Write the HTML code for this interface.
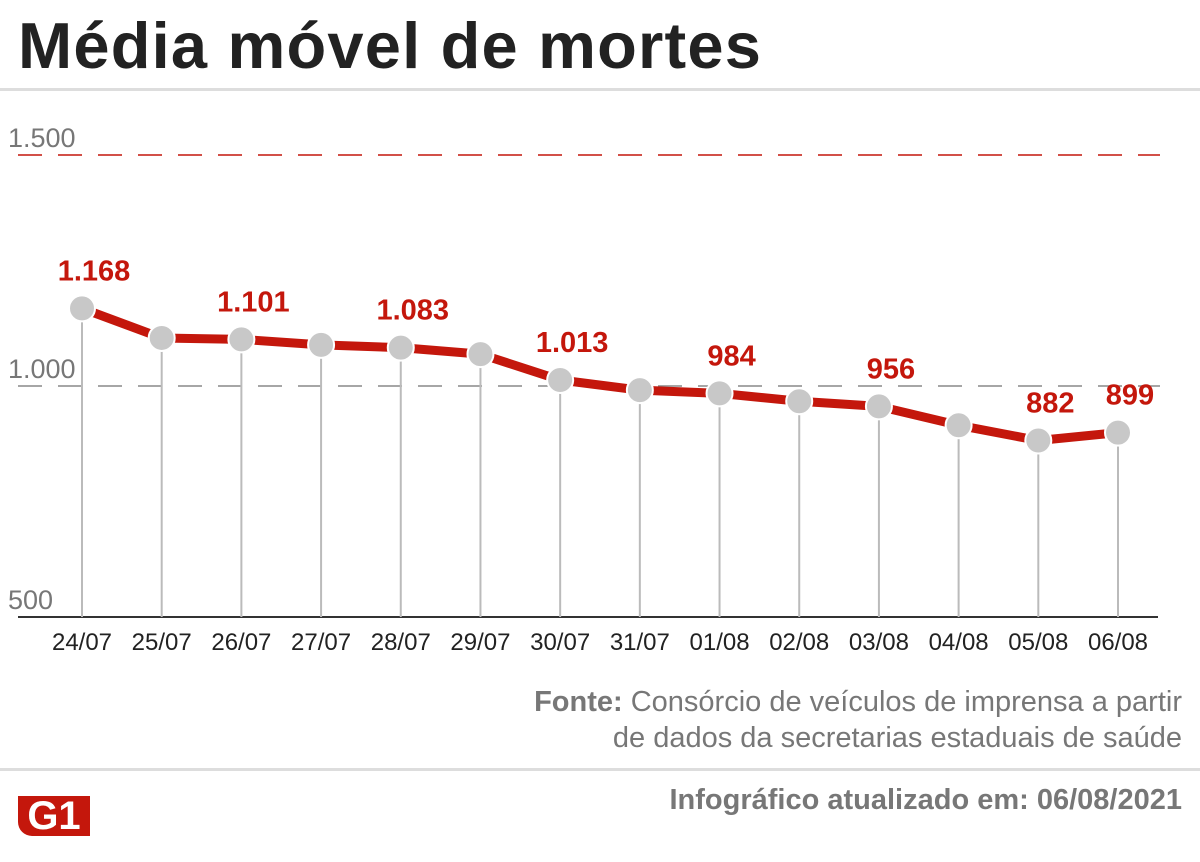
<!DOCTYPE html>
<html><head><meta charset="utf-8"><style>
body{margin:0;width:1200px;height:862px;background:#fff;font-family:"Liberation Sans",sans-serif;overflow:hidden;position:relative}
.t{position:absolute}
</style></head><body>
<div class="t" style="left:18px;top:8px;font-size:65px;font-weight:bold;color:#222;letter-spacing:1.2px">Média móvel de mortes</div>
<div class="t" style="left:0;top:88px;width:1200px;height:3px;background:#ddd"></div>
<svg class="t" style="left:0;top:0" width="1200" height="862" id="ch"></svg>
<div class="t" style="right:18px;top:684px;font-size:29px;color:#777;text-align:right;line-height:36px;white-space:nowrap"><b>Fonte:</b> Consórcio de veículos de imprensa a partir<br>de dados da secretarias estaduais de saúde</div>
<div class="t" style="left:0;top:768px;width:1200px;height:3px;background:#ddd"></div>
<div class="t" style="left:18px;top:796px;width:72px;height:40px;background:#c4170c;color:#fff;font-weight:bold;font-size:40px;line-height:40px;text-align:center;border-radius:0 0 0 14px">G1</div>
<div class="t" style="right:18px;top:784px;font-size:29px;font-weight:bold;color:#777;white-space:nowrap">Infográfico atualizado em: 06/08/2021</div>
<script>
const categories=["24/07","25/07","26/07","27/07","28/07","29/07","30/07","31/07","01/08","02/08","03/08","04/08","05/08","06/08"];
const values=[1168,1104,1101,1089,1083,1069,1013,991,984,967,956,915,882,899];
const labeled=[true,false,true,false,true,false,true,false,true,false,true,false,true,true];
const ticks=[500,1000,1500];
const tickLabels=["500","1.000","1.500"];
const svg=document.getElementById('ch');const NS='http://www.w3.org/2000/svg';
const x=i=>82+i*(1118-82)/(categories.length-1);
const y=v=>617-(v-500)*(231/500);
const fmt=v=>v>=1000?Math.floor(v/1000)+'.'+String(v%1000).padStart(3,'0'):String(v);
function mk(t,a,p){const e=document.createElementNS(NS,t);for(const k in a)e.setAttribute(k,a[k]);(p||svg).appendChild(e);return e;}
ticks.forEach((tk,i)=>{
 if(tk>500){const l=mk('line',{x1:18,x2:1160,y1:y(tk),y2:y(tk),stroke:tk===1500?'#c4170c':'#888','stroke-width':1.5,'stroke-dasharray':'24 16'});
 
 }
 const t=mk('text',{x:8,y:y(tk)-8,'font-size':27,fill:'#777'});t.textContent=tickLabels[i];
 
 
});
const ax=mk('line',{x1:18,x2:1158,y1:617,y2:617,stroke:'#333','stroke-width':2});


values.forEach((v,i)=>{
 const l=mk('line',{x1:x(i),x2:x(i),y1:y(v),y2:617,stroke:'#bbb','stroke-width':2});
 
 
 const t=mk('text',{x:x(i),y:650,'font-size':24,fill:'#222','text-anchor':'middle'});t.textContent=categories[i];
 
 
});
const pl=mk('polyline',{points:values.map((v,i)=>x(i)+','+y(v)).join(' '),fill:'none',stroke:'#c4170c','stroke-width':9,'stroke-linejoin':'round'});


values.forEach((v,i)=>{
 const c=mk('circle',{cx:x(i),cy:y(v),r:13,fill:'#c8c8c8',stroke:'#fff','stroke-width':2});
 
 
 if(labeled[i]){const t=mk('text',{x:x(i)+12,y:y(v)-28,'font-size':29,'font-weight':'bold',fill:'#c4170c','text-anchor':'middle'});t.textContent=fmt(v);
 
 }
});
</script>
</body></html>
